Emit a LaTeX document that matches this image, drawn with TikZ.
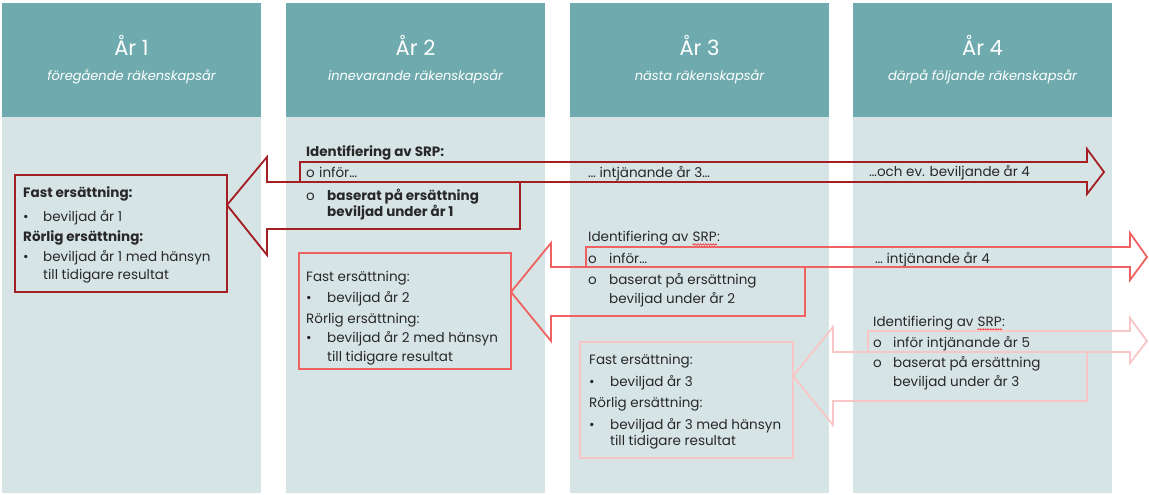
\documentclass[tikz,border=0pt]{standalone}
\usepackage{fontspec}
\setmainfont{Poppins}
\usetikzlibrary{decorations.pathmorphing}
\definecolor{headc}{RGB}{111,171,174}
\definecolor{bodyc}{RGB}{215,228,230}
\definecolor{dred}{RGB}{163,31,36}
\definecolor{salm}{RGB}{240,98,98}
\definecolor{pinkc}{RGB}{248,198,198}
\definecolor{txtc}{RGB}{40,40,40}
\tikzset{
  headbox/.style={fill=headc, draw=none, inner sep=0, minimum width=259pt, minimum height=114pt, anchor=north west},
  bodybox/.style={fill=bodyc, draw=none, inner sep=0, minimum width=259pt, minimum height=376pt, anchor=north west},
  ttl/.style={text=white, inner sep=0, anchor=base, font=\fontsize{21}{24}\selectfont},
  sub/.style={text=white, inner sep=0, anchor=base, font=\fontsize{13}{15}\itshape},
  t/.style={text=txtc, inner sep=0, anchor=base west, font=\fontsize{13.5}{16}\selectfont},
  tb/.style={t, font=\fontsize{13.5}{16}\bfseries},
  frameA/.style={draw=dred, line width=1.8pt},
  frameB/.style={draw=salm, line width=1.8pt},
  frameC/.style={draw=pinkc, line width=1.8pt},
  wavy/.style={draw=red, line width=0.5pt, decorate, decoration={snake, amplitude=0.7pt, segment length=2.5pt}},
}
\begin{document}
\begin{tikzpicture}[x=1pt,y=-1pt]
\useasboundingbox (0,0) rectangle (1149,495);
% columns
\foreach \L/\n/\sb [count=\i] in {2/1/föregående räkenskapsår, 286/2/innevarande räkenskapsår, 570/3/nästa räkenskapsår, 853/4/därpå följande räkenskapsår}{
  \node[headbox] (h\i) at (\L,3) {};
  \node[bodybox] (b\i) at (\L,117) {};
  \node[ttl] (ht\i) at (\L+129.5,56) {År \n};
  \node[sub] (hs\i) at (\L+129.5,81) {\sb};
}
% boxes
\draw[frameA] (15,175) rectangle (227,292);
\draw[frameB] (299,253) rectangle (511,369);
\draw[frameC] (580,342) rectangle (793,458);
% box A text
\node[tb] (a1) at (23,197.5) {Fast ersättning:};
\node[t] (a2b) at (23,221.5) {•};
\node[t] (a2) at (43,221.5) {beviljad år 1};
\node[tb] (a3) at (23,241.5) {Rörlig ersättning:};
\node[t] (a4b) at (23,261.5) {•};
\node[t] (a4) at (43,261.5) {beviljad år 1 med hänsyn};
\node[t] (a5) at (43,279.5) {till tidigare resultat};
% box B text
\node[t] (bb1) at (306,281.5) {Fast ersättning:};
\node[t] (bb2b) at (306,302.5) {•};
\node[t] (bb2) at (327,302.5) {beviljad år 2};
\node[t] (bb3) at (306,323.5) {Rörlig ersättning:};
\node[t] (bb4b) at (306,342.5) {•};
\node[t] (bb4) at (327,342.5) {beviljad år 2 med hänsyn};
\node[t] (bb5) at (327,361.5) {till tidigare resultat};
% box C text
\node[t] (c1) at (589,364.5) {Fast ersättning:};
\node[t] (c2b) at (589,386.5) {•};
\node[t] (c2) at (610,386.5) {beviljad år 3};
\node[t] (c3) at (589,407.5) {Rörlig ersättning:};
\node[t] (c4b) at (589,429.5) {•};
\node[t] (c4) at (610,429.5) {beviljad år 3 med hänsyn};
\node[t] (c5) at (610,445.5) {till tidigare resultat};
% SRP col2
\node[tb] (s1) at (306,156.5) {Identifiering av SRP:};
\node[t] (s1ob) at (306,177.5) {o};
\node[t] (s1o) at (319,177.5) {inför…};
\node[t] (s1pb) at (306,200.5) {o};
\node[tb] (s1p) at (327,200.5) {baserat på ersättning};
\node[tb] (s1q) at (327,216.5) {beviljad under år 1};
\node[t] (y3a) at (588,177.5) {… intjänande år 3…};
\node[t] (y4a) at (869,176.5) {…och ev. beviljande år 4};
% SRP col3
\node[t] (s2) at (588,241.5) {Identifiering av};
\node[t] (s2srp) at ([xshift=3.8pt]s2.base east) {SRP};
\node[t] (s2c) at (s2srp.base east) {:};
\draw[wavy] ([yshift=-3pt]s2srp.base west) -- ([yshift=-3pt]s2srp.base east);
\node[t] (s2ob) at (588,263.5) {o};
\node[t] (s2o) at (609,263.5) {inför…};
\node[t] (s2pb) at (588,284.5) {o};
\node[t] (s2p) at (609,284.5) {baserat på ersättning};
\node[t] (s2q) at (609,303.5) {beviljad under år 2};
\node[t] (y4b) at (875,263.5) {… intjänande år 4};
% SRP col4
\node[t] (s3) at (873,326.5) {Identifiering av};
\node[t] (s3srp) at ([xshift=3.8pt]s3.base east) {SRP};
\node[t] (s3c) at (s3srp.base east) {:};
\draw[wavy] ([yshift=-3pt]s3srp.base west) -- ([yshift=-3pt]s3srp.base east);
\node[t] (s3ob) at (873,347.5) {o};
\node[t] (s3o) at (893,347.5) {inför intjänande år 5};
\node[t] (s3pb) at (873,367.5) {o};
\node[t] (s3p) at (893,367.5) {baserat på ersättning};
\node[t] (s3q) at (893,386.5) {beviljad under år 3};
% arrows dark red
\draw[frameA, line join=miter] (300,162) -- (1087,162) -- (1087,149) -- (1104,172) -- (1087,194) -- (1087,182) -- (300,182) -- cycle;
\draw[frameA, line join=miter] (520,182) -- (267,182) -- (267,157) -- (227,205) -- (267,255) -- (267,229) -- (520,229) -- cycle;
% arrows salmon
\draw[frameB, line join=miter] (586,247) -- (1130,247) -- (1130,233) -- (1147,257) -- (1130,280) -- (1130,267) -- (586,267) -- cycle;
\draw[frameB, line join=miter] (805,267) -- (551,267) -- (551,243) -- (511,292) -- (551,341) -- (551,316) -- (805,316) -- cycle;
% arrows pink
\draw[frameC, line join=miter] (868,331) -- (1130,331) -- (1130,318) -- (1147,341) -- (1130,363) -- (1130,352) -- (868,352) -- cycle;
\draw[frameC, line join=miter] (1087,352) -- (833,352) -- (833,327) -- (793,376) -- (833,425) -- (833,401) -- (1087,401) -- cycle;
\end{tikzpicture}
\end{document}
